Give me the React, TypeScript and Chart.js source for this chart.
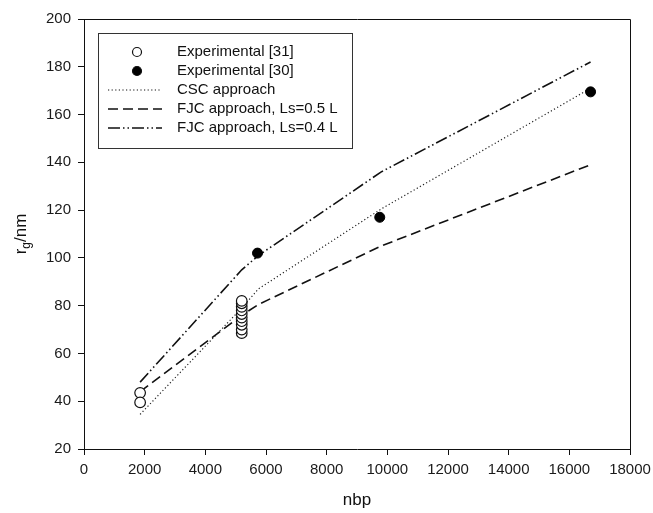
import React, { useEffect, useRef } from "react";
import { Chart, registerables } from "chart.js";
Chart.register(...registerables);

const exp31X = [1850, 1850, 5200, 5200, 5200, 5200, 5200, 5200, 5200, 5200, 5200, 5200];
const exp31Y = [43.5, 39.5, 68.5, 70, 72, 73.5, 75, 76.5, 78, 79.5, 81, 82];
const exp30X = [5720, 9750, 16700];
const exp30Y = [102, 117, 169.5];
const modelX = [1850, 5200, 5750, 9800, 16700];
const cscY = [34.5, 79, 87, 120.5, 171];
const fjc05Y = [44, 76, 80.5, 105, 139];
const fjc04Y = [48, 95, 101, 136, 182];
const seriesLabels = [
  "Experimental [31]",
  "Experimental [30]",
  "CSC approach",
  "FJC approach, Ls=0.5 L",
  "FJC approach, Ls=0.4 L",
];
const xTicks = [0, 2000, 4000, 6000, 8000, 10000, 12000, 14000, 16000, 18000];
const yTicks = [20, 40, 60, 80, 100, 120, 140, 160, 180, 200];

const pts = (xs: number[], ys: number[]) => xs.map((x, i) => ({ x, y: ys[i] }));

const DOT = [1.2, 2.4];
const DASH = [10, 5];
const DASHDOT = [12, 3, 1.5, 3, 1.5, 3];
const FONT = "'Liberation Sans', Arial, sans-serif";

const customPlugin = {
  id: "custom",
  afterDraw(chart: any) {
    const ctx = chart.ctx as CanvasRenderingContext2D;
    const { left, right, top, bottom } = chart.chartArea;
    ctx.save();
    ctx.strokeStyle = "#111";
    ctx.lineWidth = 1;
    ctx.beginPath();
    ctx.moveTo(Math.round(left) + 0.5, Math.round(top) + 0.5);
    ctx.lineTo(Math.round(right) + 0.5, Math.round(top) + 0.5);
    ctx.lineTo(Math.round(right) + 0.5, Math.round(bottom) + 0.5);
    ctx.stroke();

    const bx = Math.round(left) + 14.5;
    const by = Math.round(top) + 14.5;
    const bw = 254;
    const bh = 115;
    ctx.fillStyle = "#fff";
    ctx.fillRect(bx, by, bw, bh);
    ctx.strokeStyle = "#333";
    ctx.lineWidth = 1;
    ctx.strokeRect(bx, by, bw, bh);
    const rowY = [52, 71, 90, 109, 128];
    ctx.font = `15px ${FONT}`;
    ctx.textBaseline = "middle";
    ctx.textAlign = "left";
    seriesLabels.forEach((lab, i) => {
      const y = rowY[i] + (Math.round(top) - 19);
      ctx.fillStyle = "#111";
      ctx.fillText(lab, 177, y);
      ctx.strokeStyle = "#111";
      if (i === 0 || i === 1) {
        ctx.beginPath();
        ctx.arc(137, y, 4.5, 0, Math.PI * 2);
        ctx.fillStyle = i === 0 ? "#fff" : "#000";
        ctx.fill();
        ctx.lineWidth = 1.2;
        ctx.setLineDash([]);
        ctx.stroke();
      } else {
        ctx.beginPath();
        ctx.setLineDash(i === 2 ? DOT : i === 3 ? DASH : DASHDOT);
        ctx.lineWidth = i === 2 ? 1.2 : 1.6;
        ctx.moveTo(108, y);
        ctx.lineTo(162, y);
        ctx.stroke();
        ctx.setLineDash([]);
      }
    });

    ctx.fillStyle = "#111";
    ctx.textAlign = "center";
    ctx.textBaseline = "middle";
    ctx.font = `17px ${FONT}`;
    ctx.fillText("nbp", (left + right) / 2, 500);

    ctx.translate(20, (top + bottom) / 2);
    ctx.rotate(-Math.PI / 2);
    ctx.textAlign = "left";
    ctx.textBaseline = "alphabetic";
    const big = `17px ${FONT}`;
    const small = `12px ${FONT}`;
    ctx.font = big;
    const wr = ctx.measureText("r").width;
    const wn = ctx.measureText("/nm").width;
    ctx.font = small;
    const wg = ctx.measureText("g").width;
    const total = wr + wg + wn;
    let x0 = -total / 2;
    const base = 6;
    ctx.font = big;
    ctx.fillText("r", x0, base);
    x0 += wr;
    ctx.font = small;
    ctx.fillText("g", x0, base + 4);
    x0 += wg;
    ctx.font = big;
    ctx.fillText("/nm", x0, base);
    ctx.restore();
  },
};

export default function App() {
  const ref = useRef<HTMLCanvasElement>(null);
  useEffect(() => {
    if (!ref.current) return;
    const chart = new Chart(ref.current, {
      type: "scatter",
      data: {
        datasets: [
          {
            label: seriesLabels[0],
            data: pts(exp31X, exp31Y),
            showLine: false,
            pointStyle: "circle",
            pointRadius: 5.3,
            pointBackgroundColor: "#fff",
            pointBorderColor: "#111",
            pointBorderWidth: 1.2,
            order: 1,
          },
          {
            label: seriesLabels[1],
            data: pts(exp30X, exp30Y),
            showLine: false,
            pointStyle: "circle",
            pointRadius: 5,
            pointBackgroundColor: "#000",
            pointBorderColor: "#000",
            pointBorderWidth: 1,
            order: 0,
          },
          {
            label: seriesLabels[2],
            data: pts(modelX, cscY),
            showLine: true,
            pointRadius: 0,
            borderColor: "#222",
            borderWidth: 1.2,
            borderDash: DOT,
            order: 3,
          },
          {
            label: seriesLabels[3],
            data: pts(modelX, fjc05Y),
            showLine: true,
            pointRadius: 0,
            borderColor: "#111",
            borderWidth: 1.6,
            borderDash: DASH,
            order: 3,
          },
          {
            label: seriesLabels[4],
            data: pts(modelX, fjc04Y),
            showLine: true,
            pointRadius: 0,
            borderColor: "#111",
            borderWidth: 1.6,
            borderDash: DASHDOT,
            order: 3,
          },
        ],
      },
      options: {
        responsive: false,
        animation: false,
        layout: { padding: { left: 0, right: 23, top: 19, bottom: 0 } },
        plugins: { legend: { display: false }, tooltip: { enabled: false } },
        scales: {
          x: {
            type: "linear",
            min: 0,
            max: 18000,
            afterBuildTicks: (s: any) => {
              s.ticks = xTicks.map((v) => ({ value: v }));
            },
            afterFit: (s: any) => {
              s.height = 64;
              s.paddingLeft = 0;
              s.paddingRight = 0;
            },
            ticks: {
              callback: (v: any) => String(v),
              font: { family: FONT, size: 15 },
              color: "#1a1a1a",
              padding: 6,
              maxRotation: 0,
            },
            grid: {
              drawOnChartArea: false,
              drawTicks: true,
              tickLength: 6,
              color: "#111",
            },
            border: { display: true, color: "#111", width: 1 },
            title: { display: false },
          },
          y: {
            type: "linear",
            min: 20,
            max: 200,
            afterBuildTicks: (s: any) => {
              s.ticks = yTicks.map((v) => ({ value: v }));
            },
            afterFit: (s: any) => {
              s.width = 84;
              s.paddingTop = 0;
              s.paddingBottom = 0;
            },
            ticks: {
              callback: (v: any) => String(v),
              font: { family: FONT, size: 15 },
              color: "#1a1a1a",
              padding: 7,
            },
            grid: {
              drawOnChartArea: false,
              drawTicks: true,
              tickLength: 6,
              color: "#111",
            },
            border: { display: true, color: "#111", width: 1 },
            title: { display: false },
          },
        },
      },
      plugins: [customPlugin],
    });
    return () => chart.destroy();
  }, []);
  return (
    <div style={{ position: "absolute", left: 0, top: 0, width: 653, height: 513, background: "#fff" }}>
      <canvas ref={ref} width={653} height={513} style={{ display: "block", width: 653, height: 513 }} />
    </div>
  );
}
